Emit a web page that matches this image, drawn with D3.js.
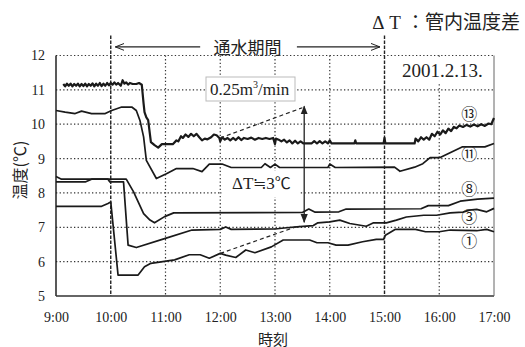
<!DOCTYPE html>
<html>
<head>
<meta charset="utf-8">
<script src="https://cdn.jsdelivr.net/npm/d3@7"></script>
<style>
body{margin:0;background:#fff;}
svg{display:block;}
</style>
</head>
<body>
<svg id="chart" width="525" height="347"></svg>
<script>
// ---- data ----
var xTicks = ["9:00","10:00","11:00","12:00","13:00","14:00","15:00","16:00","17:00"];
var yTicks = [5,6,7,8,9,10,11,12];

var s13 = [["9:08",11.17],["9:10",11.10],["9:12",11.18],["9:14",11.12],["9:16",11.18],["9:18",11.10],["9:20",11.17],["9:22",11.12],["9:24",11.18],["9:26",11.10],["9:28",11.17],["9:30",11.11],["9:32",11.18],["9:34",11.10],["9:36",11.17],["9:38",11.12],["9:40",11.19],["9:42",11.10],["9:44",11.18],["9:46",11.12],["9:48",11.20],["9:50",11.11],["9:52",11.18],["9:54",11.12],["9:56",11.20],["9:58",11.13],["10:00",11.20],["10:02",11.15],["10:04",11.22],["10:06",11.15],["10:08",11.20],["10:11",11.12],["10:13",11.28],["10:15",11.18],["10:17",11.22],["10:19",11.15],["10:21",11.20],["10:24",11.17],["10:28",11.17],["10:31",11.20],["10:34",11.15],
  ["10:36",10.60],["10:37",10.35],["10:39",10.20],["10:41",10.12],["10:44",9.48],["10:48",9.39],["10:52",9.32],["10:56",9.42],["11:08",9.42],["11:12",9.53],["11:14",9.50],["11:17",9.65],["11:19",9.60],["11:22",9.70],["11:25",9.63],["11:28",9.72],["11:31",9.65],["11:34",9.72],["11:37",9.62],["11:40",9.53],["11:43",9.58],["11:46",9.56],["11:50",9.62],["11:53",9.70],["11:56",9.68],["11:59",9.60],["12:00",9.50],["12:02",9.62],["12:05",9.55],["12:08",9.60],["12:11",9.53],["12:14",9.60],["12:17",9.54],["12:20",9.62],["12:23",9.54],["12:26",9.60],["12:30",9.57],["12:34",9.61],["12:38",9.55],["12:42",9.60],["12:46",9.57],["12:50",9.60],["12:54",9.57],["12:58",9.60],["13:00",9.42],["13:01",9.58],["13:04",9.55],["13:07",9.50],["13:10",9.55],["13:13",9.47],["13:16",9.53],["13:19",9.44],["13:22",9.52],["13:25",9.44],["13:28",9.50],["13:31",9.44],["13:40",9.44],["13:43",9.51],["13:46",9.44],["13:49",9.51],["13:52",9.44],["13:55",9.50],["13:58",9.44],["14:00",9.53],["14:02",9.44],["14:27",9.44],["14:28",9.53],["14:29",9.44],["14:59",9.44],["15:00",9.60],["15:01",9.44],["15:33",9.44],
  ["15:34",9.58],["15:37",9.50],["15:40",9.62],["15:43",9.55],["15:46",9.62],["15:49",9.55],["15:52",9.72],["15:55",9.65],["15:58",9.78],["16:01",9.70],["16:04",9.82],["16:07",9.74],["16:10",9.87],["16:13",9.80],["16:16",9.92],["16:19",9.88],["16:22",9.96],["16:26",9.92],["16:30",9.98],["16:34",9.93],["16:38",9.99],["16:42",9.94],["16:46",10.00],["16:50",9.95],["16:54",10.02],["16:57",10.00],["17:00",10.18]];

var s11 = [["9:00",10.40],["9:10",10.35],["9:21",10.31],["9:28",10.38],["9:39",10.31],["9:54",10.31],["10:01",10.40],["10:12",10.50],["10:23",10.50],["10:28",10.40],["10:32",10.11],["10:36",9.63],["10:39",8.95],["10:50",8.42],["11:01",8.56],["11:12",8.71],["11:30",8.71],["11:40",8.62],["11:48",8.84],["12:02",8.84],["12:12",8.74],["12:45",8.74],["12:49",8.85],["12:55",8.74],["13:00",8.84],["13:05",8.74],["13:58",8.74],["14:00",8.84],["14:06",8.74],["15:11",8.75],["15:17",8.63],["15:33",8.75],["15:42",8.85],["15:50",9.03],["16:01",9.03],["16:25",9.34],["16:50",9.34],["17:00",9.44]];

var s8 = [["9:00",8.48],["9:06",8.40],["9:54",8.40],["10:17",8.40],["10:25",8.03],["10:36",7.40],["10:43",7.21],["10:48",7.13],["10:59",7.31],["11:09",7.42],["13:30",7.43],["13:37",7.53],["13:44",7.44],["14:10",7.45],["14:18",7.53],["15:40",7.54],["15:48",7.63],["16:10",7.63],["16:23",7.76],["16:42",7.82],["17:00",7.85]];

var s3 = [["9:00",8.32],["9:32",8.32],["9:39",8.40],["9:57",8.40],["9:59",8.32],["10:14",8.32],["10:19",6.48],["10:28",6.41],["10:59",6.67],["11:29",6.92],["12:00",6.94],["12:06",7.01],["12:12",6.94],["13:00",6.95],["13:10",6.98],["13:27",7.02],["13:42",7.05],["13:47",7.13],["14:00",7.16],["14:11",7.21],["14:22",7.11],["14:40",7.03],["14:48",7.13],["15:02",7.13],["15:13",7.21],["15:24",7.30],["15:43",7.35],["15:57",7.35],["16:12",7.42],["16:26",7.44],["16:33",7.50],["16:41",7.52],["16:52",7.45],["17:00",7.55]];

var s1 = [["9:00",7.61],["9:50",7.61],["9:57",7.69],["10:00",7.74],["10:08",5.61],["10:30",5.61],["10:37",5.85],["10:44",5.95],["10:57",6.00],["11:10",6.05],["11:26",6.20],["11:38",6.20],["11:48",6.10],["12:00",6.24],["12:06",6.19],["12:17",6.12],["12:28",6.34],["12:38",6.26],["12:56",6.43],["13:09",6.63],["13:38",6.63],["13:46",6.55],["13:58",6.55],["14:07",6.48],["14:20",6.48],["14:36",6.58],["14:51",6.65],["14:59",6.65],["15:01",6.77],["15:12",6.94],["15:34",6.94],["15:45",6.87],["16:00",6.87],["16:12",6.92],["16:41",6.90],["16:52",6.94],["17:00",6.87]];

var seriesNames = ["⑬","⑪","⑧","③","①"];
var labelTime = "16:33";
var labelTemps = [10.34, 9.15, 8.14, 7.32, 6.64];

// annotations in data units
var flowStart = "10:00", flowEnd = "15:00";
var dashA = [["12:00",9.60],["13:30",10.48]];
var dashB = [["12:00",6.24],["13:27",7.05]];
var deltaArrow = [["13:32",10.52],["13:32",7.15]];
var arrowLeft = [["11:38",12.25],["10:05",12.25]];
var arrowRight = [["13:24",12.25],["14:55",12.25]];

// ---- drawing ----
var width = 525, height = 347;
var margin = {top:55.5, right:31, bottom:51, left:56};
var parse = d3.timeParse("%H:%M");
var svg = d3.select("#chart");
var serif = "'Liberation Serif',serif";
var cjk = "'Noto Sans CJK JP',sans-serif";

var x = d3.scaleTime()
    .domain([parse("9:00"), parse("17:00")])
    .range([margin.left, width - margin.right]);
var y = d3.scaleLinear()
    .domain([5,12])
    .range([height - margin.bottom, margin.top]);

var defs = svg.append("defs");
defs.append("marker").attr("id","open").attr("viewBox","0 -5 10 10")
    .attr("refX",9).attr("refY",0).attr("markerWidth",10).attr("markerHeight",10)
    .attr("markerUnits","userSpaceOnUse").attr("orient","auto")
  .append("path").attr("d","M0,-3.5L9,0L0,3.5").attr("fill","none").attr("stroke","#222").attr("stroke-width",1);
defs.append("marker").attr("id","solid").attr("viewBox","0 -5 10 10")
    .attr("refX",9).attr("refY",0).attr("markerWidth",9).attr("markerHeight",9)
    .attr("markerUnits","userSpaceOnUse").attr("orient","auto-start-reverse")
  .append("path").attr("d","M0,-4L10,0L0,4Z").attr("fill","#222");

var grid = svg.append("g");
// horizontal dotted grid
grid.selectAll(".hg").data(yTicks.slice(1)).enter().append("line")
    .attr("x1",x.range()[0]).attr("x2",x.range()[1])
    .attr("y1",d=>y(d)).attr("y2",d=>y(d))
    .attr("stroke","#333").attr("stroke-width",1.2).attr("stroke-dasharray","1.3,2.3");
// vertical dotted grid
var vTimes = xTicks.slice(1,-1).filter(d=>d!==flowStart && d!==flowEnd);
grid.selectAll(".vg").data(vTimes).enter().append("line")
    .attr("x1",d=>x(parse(d))).attr("x2",d=>x(parse(d)))
    .attr("y1",y(12)).attr("y2",y(5))
    .attr("stroke","#333").attr("stroke-width",1.2).attr("stroke-dasharray","1.3,2.3");
// flow period dashed lines
grid.selectAll(".fg").data([flowStart,flowEnd]).enter().append("line")
    .attr("x1",d=>x(parse(d))).attr("x2",d=>x(parse(d)))
    .attr("y1",y(12.58)).attr("y2",y(5))
    .attr("stroke","#222").attr("stroke-width",1.4).attr("stroke-dasharray","3.5,1.5");

// frame
svg.append("line").attr("x1",x.range()[0]).attr("x2",x.range()[0]).attr("y1",y(12)).attr("y2",y(5))
    .attr("stroke","#222").attr("stroke-width",1.5);
svg.append("line").attr("x1",x.range()[0]).attr("x2",x.range()[1]).attr("y1",y(5)).attr("y2",y(5))
    .attr("stroke","#333").attr("stroke-width",1.6);
svg.append("line").attr("x1",x.range()[1]).attr("x2",x.range()[1]).attr("y1",y(12)).attr("y2",y(5))
    .attr("stroke","#666").attr("stroke-width",1);

// axes (labels only)
var xAxis = d3.axisBottom(x)
    .tickValues(xTicks.map(parse))
    .tickFormat(d3.timeFormat("%-H:%M"))
    .tickSize(0).tickPadding(16);
svg.append("g").attr("transform",`translate(0,${y(5)})`).call(xAxis)
    .attr("font-family",serif).attr("font-size",14)
    .call(g=>g.select(".domain").remove())
    .call(g=>g.selectAll("text").attr("fill","#222"));
var yAxis = d3.axisLeft(y).tickValues(yTicks).tickFormat(d3.format("d"))
    .tickSize(0).tickPadding(11);
svg.append("g").attr("transform",`translate(${x.range()[0]},0)`).call(yAxis)
    .attr("font-family",serif).attr("font-size",14)
    .call(g=>g.select(".domain").remove())
    .call(g=>g.selectAll("text").attr("fill","#222"));

// white boxes behind annotations
svg.append("rect").attr("x",206).attr("y",77).attr("width",89).attr("height",24)
    .attr("fill","#fff").attr("stroke","#bbb").attr("stroke-width",1);
svg.append("rect").attr("x",398).attr("y",58).attr("width",90).attr("height",24).attr("fill","#fff");
svg.append("rect").attr("x",222).attr("y",171).attr("width",78).attr("height",26).attr("fill","#fff");

// label backgrounds
svg.selectAll(".lbg").data(labelTemps).enter().append("circle")
    .attr("cx",x(parse(labelTime))).attr("cy",d=>y(d)).attr("r",7.5).attr("fill","#fff");

// series
var line = d3.line().x(d=>x(parse(d[0]))).y(d=>y(d[1]));
var allSeries = [s13,s11,s8,s3,s1];
svg.selectAll(".series").data(allSeries).enter().append("path")
    .attr("d",line).attr("fill","none").attr("stroke","#1a1a1a")
    .attr("stroke-width",(d,i)=>i===0?2.2:1.7).attr("stroke-linejoin","round");

// dashed guides
svg.selectAll(".dash").data([dashA,dashB]).enter().append("path")
    .attr("d",line).attr("fill","none").attr("stroke","#222")
    .attr("stroke-width",1.2).attr("stroke-dasharray","4,3");

// delta T arrow
svg.append("path").attr("d",line(deltaArrow)).attr("stroke","#222").attr("stroke-width",1.3)
    .attr("marker-start","url(#solid)").attr("marker-end","url(#solid)")
    .attr("fill","none");

// flow period arrows
svg.selectAll(".farrow").data([arrowLeft,arrowRight]).enter().append("path")
    .attr("d",line).attr("stroke","#222").attr("stroke-width",1.1).attr("fill","none")
    .attr("marker-end","url(#open)");

// texts
svg.selectAll(".lbl").data(seriesNames).enter().append("text")
    .attr("x",x(parse(labelTime))).attr("y",(d,i)=>y(labelTemps[i]))
    .attr("text-anchor","middle").attr("dominant-baseline","central")
    .attr("font-family",cjk).attr("font-size",16).attr("fill","#222")
    .text(d=>d);

svg.append("text").attr("x",247.5).attr("y",y(12.25))
    .attr("text-anchor","middle").attr("dominant-baseline","central")
    .attr("font-family",cjk).attr("font-size",17).attr("fill","#222")
    .text("通水期間");

var q = svg.append("text").attr("x",210).attr("y",95)
    .attr("font-family",serif).attr("font-size",17).attr("fill","#222");
q.append("tspan").text("0.25m");
q.append("tspan").attr("dy",-7).attr("font-size",10).text("3");
q.append("tspan").attr("dy",7).text("/min");

svg.append("text").attr("x",402).attr("y",77)
    .attr("font-family",serif).attr("font-size",19).attr("fill","#222")
    .text("2001.2.13.");

var dt = svg.append("text").attr("x",232).attr("y",189)
    .attr("font-family",serif).attr("font-size",17).attr("fill","#222");
dt.append("tspan").text("ΔT");
dt.append("tspan").attr("font-family",cjk).attr("font-size",16).text("≒");
dt.append("tspan").text("3");
dt.append("tspan").attr("font-family",cjk).attr("font-size",16).text("℃");

var t = svg.append("text").attr("x",520).attr("y",29).attr("text-anchor","end")
    .attr("font-family",serif).attr("font-size",19).attr("fill","#222");
t.append("tspan").attr("letter-spacing",5).text("ΔT");
t.append("tspan").attr("font-family",cjk).text("：管内温度差");

svg.append("text").attr("transform","translate(19,170) rotate(-90)")
    .attr("text-anchor","middle").attr("dominant-baseline","central")
    .attr("font-family",cjk).attr("font-size",16).attr("fill","#222")
    .text("温度(℃)");

svg.append("text").attr("x",273).attr("y",338)
    .attr("text-anchor","middle").attr("dominant-baseline","central")
    .attr("font-family",cjk).attr("font-size",15).attr("fill","#222")
    .text("時刻");
</script>
</body>
</html>
